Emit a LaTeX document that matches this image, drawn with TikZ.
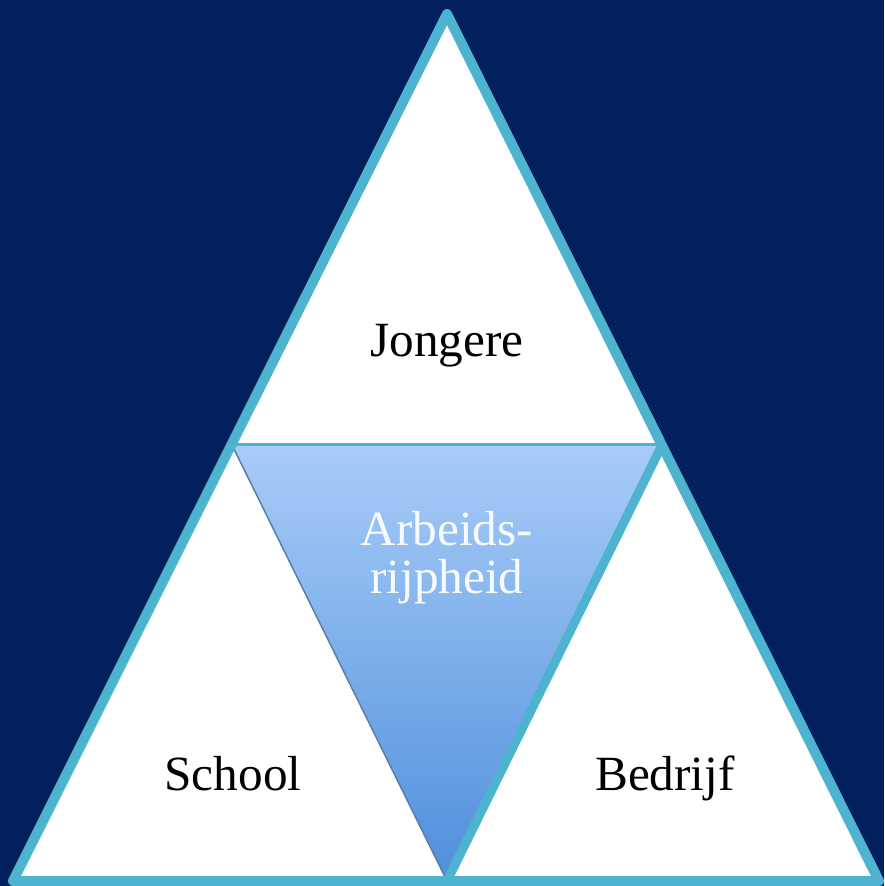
\documentclass[tikz,border=0pt]{standalone}
\usepackage{fontspec}
\setmainfont{Liberation Serif}
\definecolor{navy}{HTML}{03205E}
\definecolor{teal}{HTML}{4DB3CF}
\definecolor{midtop}{HTML}{A8CCF8}
\definecolor{midbot}{HTML}{4F8FDB}
\definecolor{shadowline}{HTML}{5A7FA8}
\begin{document}
\begin{tikzpicture}[x=0.01cm,y=-0.01cm,
  border/.style={draw=teal,line width=0.1cm,line join=round},
  label/.style={font=\fontsize{14}{16}\selectfont,text=black,anchor=base,inner sep=0pt},
  midlabel/.style={font=\fontsize{14}{16}\selectfont,text=white!92!midtop,anchor=base,inner sep=0pt}]
\fill[navy] (0,0) rectangle (884,886);
\useasboundingbox (0,0) rectangle (884,886);
% key points
\coordinate (apex) at (447,14);
\coordinate (bl) at (13,881);
\coordinate (br) at (879,881);
\coordinate (ml) at (232,445);
\coordinate (mr) at (662,445);
\coordinate (mb) at (447,881);
% outer white triangle
\fill[white] (apex) -- (bl) -- (br) -- cycle;
% middle gradient triangle
\shade[top color=midtop,bottom color=midbot] (ml) -- (mr) -- (mb) -- cycle;
% shadow edge of left triangle
\draw[shadowline,line width=0.015cm] (ml) -- (mb);
% teal edge of right triangle
\draw[border,line width=0.09cm] (mr) -- (mb);
% top separator
\draw[teal,line width=0.03cm] (ml) -- (mr);
% outer border
\draw[border] (apex) -- (bl) -- (br) -- cycle;
% labels
\node[label] (jongere) at (447,357) {Jongere};
\node[label] (school) at (233,790) {School};
\node[label] (bedrijf) at (665,790) {Bedrijf};
\node[midlabel] (arbeid) at (447,545) {Arbeids-};
\node[midlabel] (rijp) at (447,593) {rijpheid};
\end{tikzpicture}
\end{document}
